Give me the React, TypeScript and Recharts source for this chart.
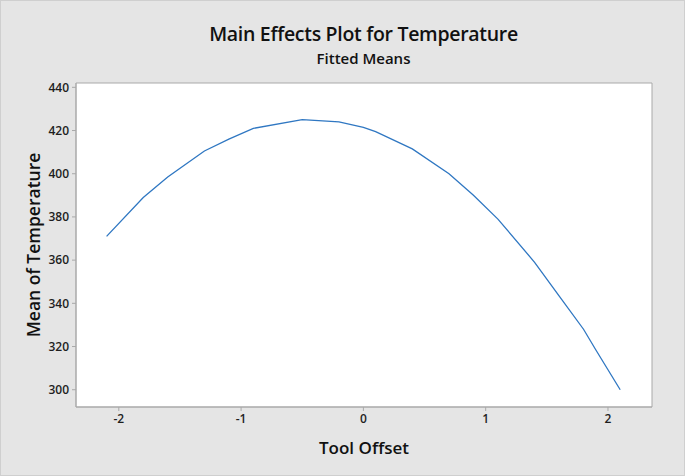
import {
  Label,
  Line,
  LineChart,
  ReferenceArea,
  XAxis,
  YAxis,
} from "recharts";

const toolOffset = [-2.1, -1.8, -1.6, -1.3, -1.1, -0.9, -0.5, -0.2, 0.0, 0.1, 0.4, 0.7, 0.9, 1.1, 1.4, 1.6, 1.8, 1.9, 2.1];
const meanTemperature = [371, 389, 398.5, 410.5, 416, 421, 425, 424, 421.5, 419.5, 411.5, 400, 390, 379, 359, 343.5, 328, 318.5, 300];
const xTicks = [-2, -1, 0, 1, 2];
const yTicks = [300, 320, 340, 360, 380, 400, 420, 440];

const data = toolOffset.map((x, i) => ({ x, y: meanTemperature[i] }));

const FONT = '"Open Sans", "Noto Sans", sans-serif';
const tickStyle = { fontSize: 12, fontWeight: 600, fill: "#1e1e1e", fontFamily: FONT };
const frame = "#a9a9a9";
const xDomain: [number, number] = [-2.35, 2.36];
const yDomain: [number, number] = [292, 442];

export default function App() {
  return (
    <div
      style={{
        position: "absolute",
        left: 0,
        top: 0,
        width: 685,
        height: 476,
        boxSizing: "border-box",
        background: "#e5e5e5",
        border: "1px solid #cfcfcf",
        fontFamily: FONT,
      }}
    >
      <div
        style={{
          position: "absolute",
          top: 19,
          width: "100%",
          paddingLeft: 42,
          boxSizing: "border-box",
          textAlign: "center",
          fontSize: 19.5,
          fontWeight: 600,
          color: "#111",
          letterSpacing: -0.3,
        }}
      >
        Main Effects Plot for Temperature
      </div>
      <div
        style={{
          position: "absolute",
          top: 47,
          width: "100%",
          paddingLeft: 42,
          boxSizing: "border-box",
          textAlign: "center",
          fontSize: 15,
          fontWeight: 600,
          color: "#111",
        }}
      >
        Fitted Means
      </div>
      <LineChart
        width={685}
        height={476}
        data={data}
        margin={{ top: 83, right: 33, bottom: 0, left: 0 }}
        style={{ position: "absolute", left: -1, top: -1 }}
      >
        <ReferenceArea
          x1={xDomain[0]}
          x2={xDomain[1]}
          y1={yDomain[0]}
          y2={yDomain[1]}
          fill="#ffffff"
          fillOpacity={1}
          stroke={frame}
          strokeWidth={1}
        />
        <XAxis
          dataKey="x"
          type="number"
          domain={xDomain}
          ticks={xTicks}
          tick={tickStyle}
          tickSize={4}
          tickMargin={3}
          stroke={frame}
          height={69}
        >
          <Label
            value="Tool Offset"
            position="insideBottom"
            offset={22}
            style={{ fontSize: 17, fontWeight: 600, fill: "#111", fontFamily: FONT }}
          />
        </XAxis>
        <YAxis
          dataKey="y"
          type="number"
          domain={yDomain}
          ticks={yTicks}
          tick={tickStyle}
          tickSize={4}
          tickMargin={3}
          stroke={frame}
          width={76}
        >
          <Label
            value="Mean of Temperature"
            angle={-90}
            position="insideLeft"
            offset={34}
            style={{ textAnchor: "middle", fontSize: 17.5, fontWeight: 600, fill: "#111", fontFamily: FONT }}
          />
        </YAxis>
        <Line
          type="linear"
          dataKey="y"
          stroke="#2f77c2"
          strokeWidth={1.3}
          dot={false}
          isAnimationActive={false}
        />
      </LineChart>
    </div>
  );
}
